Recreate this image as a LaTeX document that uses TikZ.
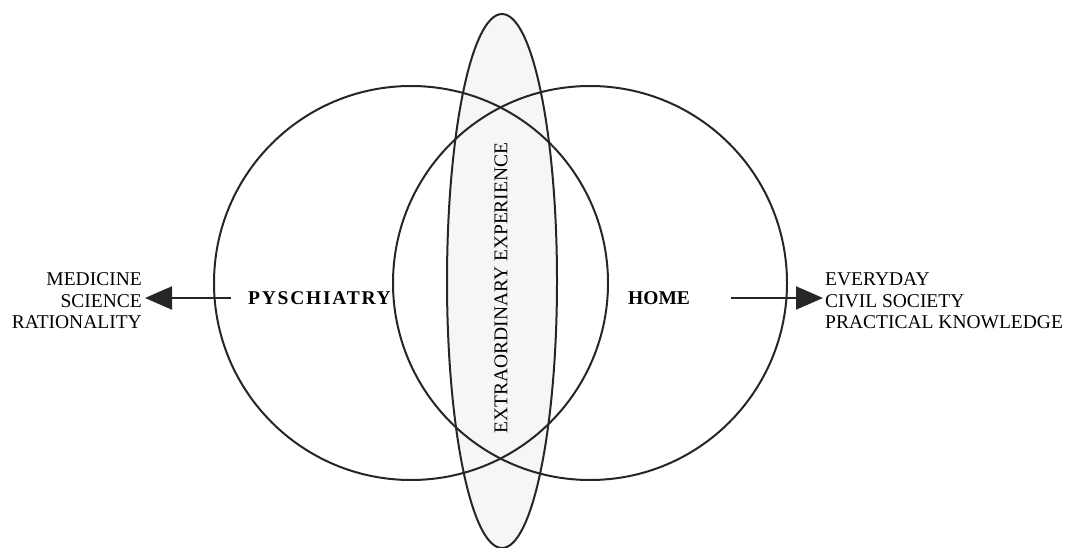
\documentclass[tikz,border=0pt]{standalone}
\usepackage{fontspec}
\setmainfont{Liberation Serif}
\usetikzlibrary{arrows.meta}
\tikzset{
  ring/.style={draw=black!85, line width=2pt},
  lbl/.style={font=\fontsize{19.5}{21.5}\selectfont, inner sep=0pt},
  bold lbl/.style={font=\fontsize{19.5}{21.5}\selectfont\bfseries, inner sep=0pt},
  arr/.style={draw=black!85, line width=2pt, -{Triangle[length=27pt,width=23pt]}}
}
\begin{document}
\begin{tikzpicture}[x=1pt,y=-1pt]
\useasboundingbox (0,0) rectangle (1065,548);
\fill[gray!7] (502,281) ellipse (55 and 267);
\draw[ring] (411,283) circle (197);
\draw[ring] (590,283) circle (197);
\draw[ring] (502,281) ellipse (55 and 267);
\node[lbl, rotate=90] (extra) at (501,288) {EXTRAORDINARY EXPERIENCE};
\node[bold lbl, anchor=west, font=\fontsize{19.5}{21.5}\selectfont\bfseries\addfontfeatures{LetterSpace=9}] (psy) at (248,298) {PYSCHIATRY};
\node[bold lbl, anchor=west] (home) at (628,298) {HOME};
\node[lbl, align=right, anchor=east] (left) at (142,301) {MEDICINE\\SCIENCE\\RATIONALITY};
\node[lbl, align=left, anchor=west] (right) at (825,301) {EVERYDAY\\CIVIL SOCIETY\\PRACTICAL KNOWLEDGE};
\coordinate (lstart) at (231,298);
\coordinate (lend) at (145,298);
\coordinate (rstart) at (731,298);
\coordinate (rend) at (823,298);
\draw[arr] (lstart) -- (lend);
\draw[arr] (rstart) -- (rend);
\end{tikzpicture}
\end{document}
